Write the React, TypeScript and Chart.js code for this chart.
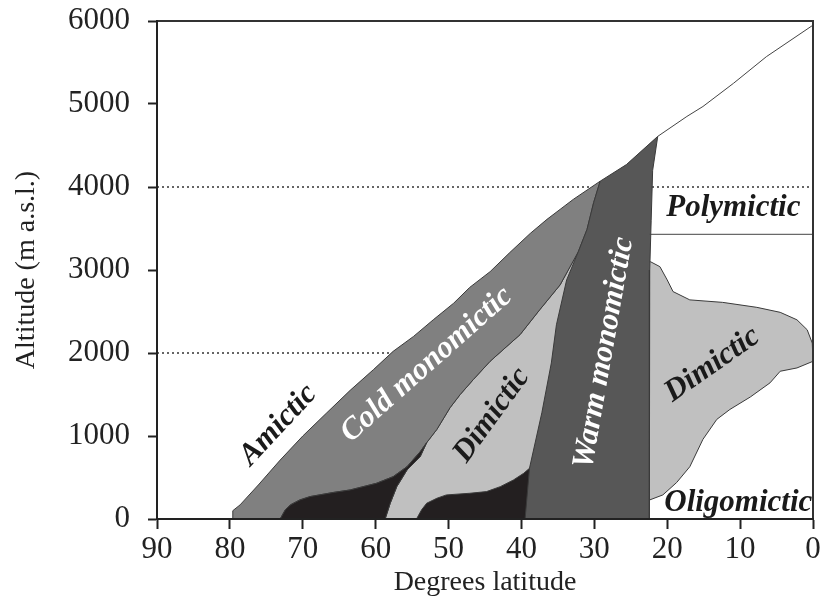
import { useEffect, useRef } from "react";
import { Chart, registerables } from "chart.js";

Chart.register(...registerables);

// ---- axes ----
const LAT_MIN = 0;
const LAT_MAX = 90;
const LAT_STEP = 10;
const ALT_MIN = 0;
const ALT_MAX = 6000;
const ALT_STEP = 1000;
const DOTTED_ALTITUDES = [2000, 4000];

// ---- boundaries (latitude in degrees, altitude in m a.s.l.) ----
// Upper-left limit of lakes, from sea level up to the top of the warm monomictic band
const OUTER_LAT = [79.7, 79.6, 78.6, 76.1, 73.1, 70.0, 66.7, 63.5, 60.3, 57.6, 54.8, 52.1, 49.3, 47.1, 44.3, 41.6, 38.8, 36.5, 34.7, 32.9, 29.2, 25.6, 21.3];
const OUTER_ALT = [0, 100, 170, 410, 710, 1000, 1280, 1550, 1800, 2020, 2200, 2400, 2600, 2790, 2980, 3210, 3440, 3610, 3730, 3850, 4070, 4270, 4610];

// Continuation of the limit towards the equator
const SNOW_LAT = [21.3, 17.3, 15.1, 10.9, 6.4, 0];
const SNOW_ALT = [4610, 4850, 4970, 5250, 5570, 5950];

// Poleward edge of the warm monomictic band (top to bottom)
const WARM_LEFT_LAT = [29.2, 30.1, 31.0, 32.2, 33.8, 35.2, 35.9, 37.2, 38.9, 39.5];
const WARM_LEFT_ALT = [4070, 3810, 3490, 3220, 2880, 2340, 1880, 1280, 610, 0];

// Equatorward edge of the warm monomictic band (top to bottom)
const WARM_RIGHT_LAT = [21.3, 22.0, 22.2, 22.4, 22.4, 22.5];
const WARM_RIGHT_ALT = [4610, 4200, 3600, 3000, 1440, 0];

// Cold monomictic / dimictic border (top to bottom)
const COLD_DIM_LAT = [32.2, 34.7, 37.5, 40.2, 42.0, 44.3, 46.6, 48.4, 49.8, 51.6, 53.0];
const COLD_DIM_ALT = [3220, 2820, 2520, 2220, 2080, 1900, 1680, 1500, 1340, 1080, 920];

// Polar lowland patch: upper edge and equatorward edge
const BLACK1_TOP_LAT = [53.0, 53.9, 55.7, 57.6, 59.9, 63.5, 65.8, 69.0, 70.4, 71.7, 72.4, 73.1];
const BLACK1_TOP_ALT = [920, 810, 630, 510, 430, 350, 320, 270, 230, 170, 110, 0];
const BLACK1_RIGHT_LAT = [53.0, 53.9, 55.7, 57.1, 58.0, 58.7];
const BLACK1_RIGHT_ALT = [920, 750, 590, 390, 190, 0];

// Temperate lowland patch: upper edge
const BLACK2_TOP_LAT = [54.4, 53.7, 53.0, 51.6, 50.3, 47.1, 44.8, 42.9, 41.1, 39.7, 38.9];
const BLACK2_TOP_ALT = [0, 110, 190, 250, 290, 310, 330, 390, 470, 550, 610];

// Tropical highland dimictic lobe
const DIM2_LAT = [22.3, 21.0, 20.0, 19.2, 16.9, 12.4, 7.7, 4.5, 2.2, 0.8, 0.1, 0, 2.2, 4.5, 5.9, 8.6, 11.4, 13.2, 15.1, 16.9, 18.7, 20.6, 22.4];
const DIM2_ALT = [3100, 3040, 2880, 2740, 2640, 2610, 2550, 2490, 2400, 2280, 2120, 1900, 1820, 1780, 1640, 1470, 1320, 1200, 960, 630, 440, 290, 230];

// Lower limit of polymictic lakes in the tropics
const POLY_LAT = [22.4, 0];
const POLY_ALT = [3430, 3430];

// ---- styling ----
const SERIF = '"Liberation Serif", "Times New Roman", serif';
const INK = "#222222";
const EDGE = "#3a3a3a";
const COLD_FILL = "#808080";
const DIM_FILL = "#c0c0c0";
const WARM_FILL = "#575757";
const BLACK_FILL = "#231f20";
const LABEL_SIZE = 31;

type Pt = { x: number; y: number };
const pts = (lat: number[], alt: number[]): Pt[] => lat.map((x, i) => ({ x, y: alt[i] }));
const rev = (a: Pt[]): Pt[] => a.slice().reverse();
const closed = (a: Pt[]): Pt[] => [...a, a[0]];

const REGION_LABELS = [
  { text: "Amictic", lat: 73.35, alt: 1130, angle: -47, color: "#1a1a1a", baseline: "middle" },
  { text: "Cold monomictic", lat: 53.0, alt: 1860, angle: -41.6, color: "#ffffff", baseline: "middle" },
  { text: "Dimictic", lat: 44.07, alt: 1250, angle: -54, color: "#1a1a1a", baseline: "middle" },
  { text: "Warm monomictic", lat: 28.67, alt: 2000, angle: -80, color: "#ffffff", baseline: "middle" },
  { text: "Dimictic", lat: 13.81, alt: 1860, angle: -35, color: "#1a1a1a", baseline: "middle" },
  { text: "Polymictic", lat: 10.93, alt: 3646, angle: 0, color: "#1a1a1a", baseline: "alphabetic" },
  { text: "Oligomictic", lat: 10.25, alt: 100, angle: 0, color: "#1a1a1a", baseline: "alphabetic" },
];

const framePlugin = {
  id: "frame",
  afterDatasetsDraw(chart: any) {
    const { ctx, chartArea } = chart;
    const { left, top, right, bottom } = chartArea;
    ctx.save();
    ctx.strokeStyle = "#333333";
    ctx.lineWidth = 2;
    ctx.beginPath();
    ctx.moveTo(left, top);
    ctx.lineTo(right, top);
    ctx.lineTo(right, bottom);
    ctx.stroke();
    ctx.restore();
  },
};

const labelPlugin = {
  id: "regionLabels",
  afterDatasetsDraw(chart: any) {
    const { ctx } = chart;
    const xs = chart.scales.x;
    const ys = chart.scales.y;
    for (const l of REGION_LABELS) {
      ctx.save();
      ctx.translate(xs.getPixelForValue(l.lat), ys.getPixelForValue(l.alt));
      ctx.rotate((l.angle * Math.PI) / 180);
      ctx.font = `italic bold ${LABEL_SIZE}px ${SERIF}`;
      ctx.fillStyle = l.color;
      ctx.textAlign = "center";
      ctx.textBaseline = l.baseline;
      ctx.fillText(l.text, 0, 0);
      ctx.restore();
    }
  },
};

function region(label: string, data: Pt[], color: string, order: number) {
  return {
    label,
    data: closed(data),
    fill: "shape",
    backgroundColor: color,
    borderColor: EDGE,
    borderWidth: 1,
    pointRadius: 0,
    tension: 0,
    order,
  };
}

function line(label: string, data: Pt[], order: number, dash: number[] = []) {
  return {
    label,
    data,
    fill: false,
    borderColor: dash.length ? "#333333" : "#444444",
    borderWidth: dash.length ? 1.3 : 1,
    borderDash: dash,
    pointRadius: 0,
    tension: 0,
    order,
  };
}

export default function App() {
  const ref = useRef<HTMLCanvasElement | null>(null);

  useEffect(() => {
    const canvas = ref.current;
    if (!canvas) return;

    const outer = pts(OUTER_LAT, OUTER_ALT);
    const warmLeft = pts(WARM_LEFT_LAT, WARM_LEFT_ALT);
    const warmRight = pts(WARM_RIGHT_LAT, WARM_RIGHT_ALT);
    const coldDim = pts(COLD_DIM_LAT, COLD_DIM_ALT);
    const black1Top = pts(BLACK1_TOP_LAT, BLACK1_TOP_ALT);
    const black1Right = pts(BLACK1_RIGHT_LAT, BLACK1_RIGHT_ALT);
    const black2Top = pts(BLACK2_TOP_LAT, BLACK2_TOP_ALT);
    const dim2Edge = pts(DIM2_LAT, DIM2_ALT);

    const cold = [...outer.slice(0, 21), ...warmLeft.slice(1, 4), ...coldDim.slice(1), ...black1Top.slice(1)];
    const black1 = [...black1Top, ...rev(black1Right).slice(0, -1)];
    const dim1 = [...rev(black1Right), ...rev(coldDim).slice(1), { x: 30.5, y: 3220 }, { x: 37.0, y: 0 }];
    const black2 = [...black2Top, { x: 38.0, y: 610 }, { x: 38.0, y: 0 }];
    const dim2 = [...dim2Edge, { x: 23.2, y: 230 }, { x: 23.2, y: 3100 }];
    const warm = [...outer.slice(20), ...warmRight.slice(1), ...rev(warmLeft).slice(0, -1)];

    const datasets: any[] = [
      line("Snow line", pts(SNOW_LAT, SNOW_ALT), 1),
      line("Polymictic limit", pts(POLY_LAT, POLY_ALT), 1),
      region("Warm monomictic", warm, WARM_FILL, 2),
      region("Dimictic (tropical)", dim2, DIM_FILL, 3),
      region("Temperate lowland", black2, BLACK_FILL, 4),
      region("Polar lowland", black1, BLACK_FILL, 5),
      region("Cold monomictic", cold, COLD_FILL, 6),
      region("Dimictic", dim1, DIM_FILL, 7),
      ...DOTTED_ALTITUDES.map((a) =>
        line(`${a} m`, [{ x: LAT_MAX, y: a }, { x: LAT_MIN, y: a }], 8, [2, 3])
      ),
    ];

    const tickFmt = (v: any) => String(v);

    const chart = new Chart(canvas, {
      type: "line",
      data: { datasets },
      options: {
        responsive: false,
        animation: false,
        events: [],
        layout: { padding: { left: 0, top: 21, right: 9, bottom: 0 } },
        plugins: {
          legend: { display: false },
          tooltip: { enabled: false },
        },
        scales: {
          x: {
            type: "linear",
            position: "bottom",
            reverse: true,
            min: LAT_MIN,
            max: LAT_MAX,
            ticks: {
              stepSize: LAT_STEP,
              callback: tickFmt,
              font: { family: SERIF, size: 31 },
              color: INK,
              padding: 2,
              maxRotation: 0,
              autoSkip: false,
            },
            grid: {
              drawOnChartArea: false,
              drawTicks: true,
              tickLength: 10,
              tickWidth: 2,
              tickColor: INK,
              color: INK,
            },
            border: { display: true, color: INK, width: 2, z: 1 },
            title: {
              display: true,
              text: "Degrees latitude",
              font: { family: SERIF, size: 28 },
              color: INK,
              padding: { top: 0, bottom: 4 },
            },
            afterFit: (s: any) => {
              s.height = 84;
              s.paddingLeft = 0;
              s.paddingRight = 0;
            },
          },
          y: {
            type: "linear",
            position: "left",
            min: ALT_MIN,
            max: ALT_MAX,
            ticks: {
              stepSize: ALT_STEP,
              callback: tickFmt,
              font: { family: SERIF, size: 31 },
              color: INK,
              padding: 18,
            },
            grid: {
              drawOnChartArea: false,
              drawTicks: true,
              tickLength: 9,
              tickWidth: 2,
              tickColor: INK,
              color: INK,
            },
            border: { display: true, color: INK, width: 2, z: 1 },
            title: {
              display: true,
              text: "Altitude (m a.s.l.)",
              font: { family: SERIF, size: 28 },
              color: INK,
              padding: { top: 10, bottom: 0 },
            },
            afterFit: (s: any) => {
              s.width = 157;
              s.paddingTop = 0;
              s.paddingBottom = 0;
            },
          },
        },
      } as any,
      plugins: [framePlugin, labelPlugin],
    });

    return () => chart.destroy();
  }, []);

  return (
    <div style={{ position: "fixed", left: 0, top: 0, width: 822, height: 603, background: "#ffffff" }}>
      <canvas ref={ref} width={822} height={603} />
    </div>
  );
}
